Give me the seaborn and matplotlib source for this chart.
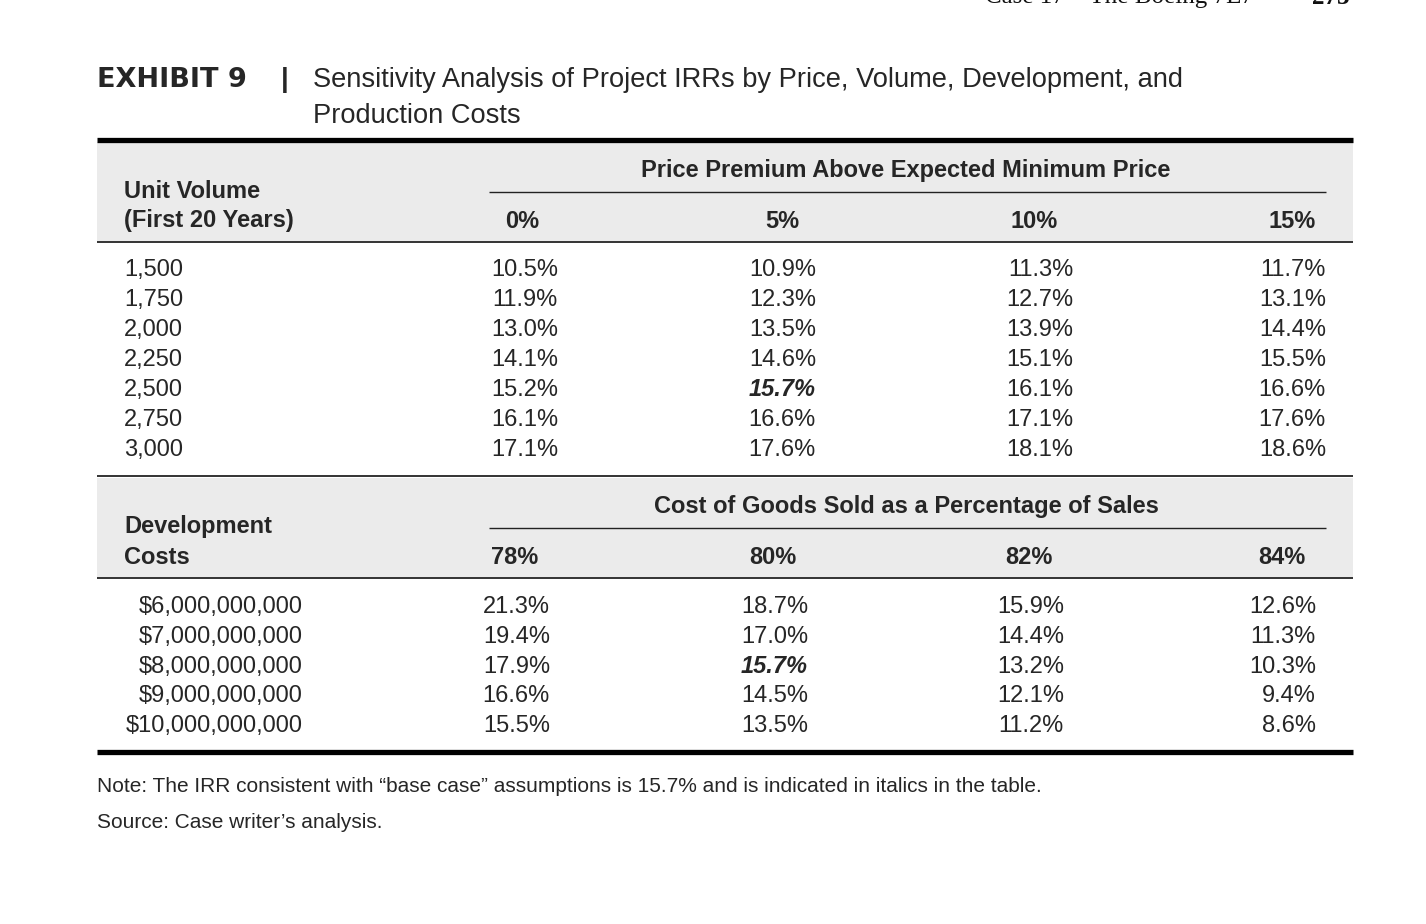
import matplotlib
matplotlib.use('Agg')
import matplotlib.pyplot as plt
import seaborn as sns

# table contents
volumes = ['1,500', '1,750', '2,000', '2,250', '2,500', '2,750', '3,000']
price_premiums = ['0%', '5%', '10%', '15%']
irr_by_volume = [
    [10.5, 10.9, 11.3, 11.7],
    [11.9, 12.3, 12.7, 13.1],
    [13.0, 13.5, 13.9, 14.4],
    [14.1, 14.6, 15.1, 15.5],
    [15.2, 15.7, 16.1, 16.6],
    [16.1, 16.6, 17.1, 17.6],
    [17.1, 17.6, 18.1, 18.6],
]
dev_costs = ['$6,000,000,000', '$7,000,000,000', '$8,000,000,000',
             '$9,000,000,000', '$10,000,000,000']
cogs_pct = ['78%', '80%', '82%', '84%']
irr_by_dev = [
    [21.3, 18.7, 15.9, 12.6],
    [19.4, 17.0, 14.4, 11.3],
    [17.9, 15.7, 13.2, 10.3],
    [16.6, 14.5, 12.1, 9.4],
    [15.5, 13.5, 11.2, 8.6],
]
base_volume = (4, 1)   # row, col shown in italics
base_dev = (2, 1)

sns.set_theme(style='white')
plt.rcParams['font.family'] = ['Liberation Sans', 'DejaVu Sans']

fig = plt.figure(figsize=(14.26, 9.24), dpi=100)
ax = fig.add_axes([0, 0, 1, 1])
ax.set_xlim(0, 1426)
ax.set_ylim(924, 0)
ax.axis('off')

FS = 17
GREY = '#ebebeb'
L, R = 97, 1353

# running header (cut at the top of the page)
ax.text(985, -3, 'Case 17    The Boeing 7E7', family='Liberation Serif',
        fontsize=18, va='center', ha='left', color='#111111')
ax.text(1312, -3, '273', family='Liberation Serif', fontsize=18,
        fontweight='bold', va='center', ha='left', color='#111111')

# title
ax.text(97, 80, 'EXHIBIT 9', family='DejaVu Sans', fontweight='bold',
        fontsize=19.5, va='center', ha='left')
ax.text(281, 80, '|', fontsize=20, fontweight='bold', va='center', ha='left')
ax.text(313, 80, 'Sensitivity Analysis of Project IRRs by Price, Volume, Development, and',
        fontsize=19.6, va='center', ha='left')
ax.text(313, 116, 'Production Costs', fontsize=19.6, va='center', ha='left')


def section(top, heading, corner, cols, col_centers, rows, row_x, row_ha,
            values, val_right, base, row_y0, row_step):
    ax.axhspan(top, top + 99, xmin=L / 1426, xmax=R / 1426, color=GREY, lw=0)
    ax.text(906, top + 29, heading, fontsize=FS, fontweight='bold',
            ha='center', va='center')
    ax.hlines(top + 50, 489, 1326, color='#222222', lw=1.0)
    ax.text(124, top + 49, corner[0], fontsize=FS, fontweight='bold', va='center')
    ax.text(124, top + 79, corner[1], fontsize=FS, fontweight='bold', va='center')
    for c, x in zip(cols, col_centers):
        ax.text(x, top + 79, c, fontsize=FS, fontweight='bold',
                ha='center', va='center')
    ax.hlines(top + 100, L, R, color='#333333', lw=1.4)
    for i, (lab, vals) in enumerate(zip(rows, values)):
        y = row_y0 + i * row_step
        ax.text(row_x, y, lab, fontsize=FS, ha=row_ha, va='center')
        for j, v in enumerate(vals):
            kw = dict(fontstyle='italic', fontweight='bold') if (i, j) == base else {}
            ax.text(val_right[j], y, f'{v:.1f}%', fontsize=FS,
                    ha='right', va='center', **kw)


ax.hlines(140, L, R, color='black', lw=3.8)
section(142, 'Price Premium Above Expected Minimum Price',
        ('Unit Volume', '(First 20 Years)'), price_premiums,
        [522, 782, 1034, 1292], volumes, 124, 'left',
        irr_by_volume, [558, 816, 1073, 1326], base_volume, 270, 30)

ax.hlines(476, L, R, color='#333333', lw=1.4)
section(478, 'Cost of Goods Sold as a Percentage of Sales',
        ('Development', 'Costs'), cogs_pct,
        [515, 773, 1029, 1282], dev_costs, 303, 'right',
        irr_by_dev, [550, 808, 1064, 1316], base_dev, 607, 29.8)

ax.hlines(752, L, R, color='black', lw=3.8)

ax.text(97, 786, 'Note: The IRR consistent with \u201cbase case\u201d assumptions is 15.7% '
        'and is indicated in italics in the table.', fontsize=15, va='center')
ax.text(97, 822, 'Source: Case writer\u2019s analysis.', fontsize=15, va='center')

fig.savefig('out.png', dpi=100, facecolor='white')
